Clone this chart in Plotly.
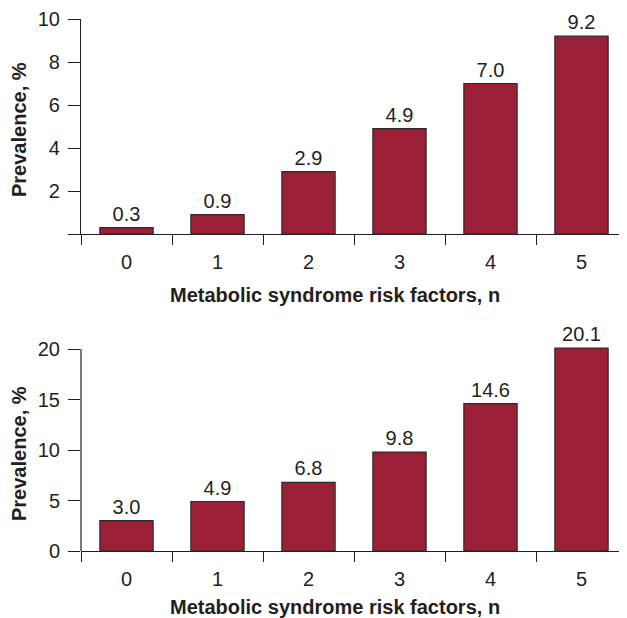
import plotly.graph_objects as go

categories = ["0", "1", "2", "3", "4", "5"]
top_values = [0.3, 0.9, 2.9, 4.9, 7.0, 9.2]
bottom_values = [3.0, 4.9, 6.8, 9.8, 14.6, 20.1]
top_ticks = [0, 2, 4, 6, 8, 10]
top_ticktext = ["", "2", "4", "6", "8", "10"]
bottom_ticks = [0, 5, 10, 15, 20]
x_title = "Metabolic syndrome risk factors, n"
y_title = "Prevalence, %"

OFF = 8  # page body margin of the html page
W, H = 627 - OFF, 618 - OFF
FONT = "Liberation Sans, Arial, sans-serif"
INK = "#231f20"
BAR = "#9b1f37"

fig = go.Figure()
for vals, xa, ya in [(top_values, "x", "y"), (bottom_values, "x2", "y2")]:
    fig.add_trace(go.Bar(
        x=categories, y=vals, xaxis=xa, yaxis=ya,
        text=[f"{v:.1f}" for v in vals], textposition="outside",
        textfont=dict(size=20, color=INK, family=FONT),
        marker=dict(color=BAR, line=dict(color="#2a2a2a", width=1.2)),
        cliponaxis=False, showlegend=False,
    ))

def py(p):
    return 1 - (p - OFF) / H

def px(p):
    return (p - OFF) / W

# bottom panel: 0 at 551px, 20 at 349px; extend range so the tallest bar fits
b0, b20 = 551, 349
bmax = 21.0
b_top = b0 - (b0 - b20) * bmax / 20

xdom = [px(81), 1.0]
common_x = dict(
    type="category", range=[-0.5, 5.5], showline=True, linecolor=INK, linewidth=1.2,
    ticks="outside", tickson="boundaries", ticklen=10, tickcolor=INK, tickwidth=1.2,
    tickfont=dict(size=20, color=INK, family=FONT), showgrid=False, zeroline=False,
    domain=xdom, fixedrange=True, automargin=False, ticklabelstandoff=10,
)
common_y = dict(
    linecolor=INK, linewidth=1.2, ticks="outside", ticklen=12,
    tickcolor=INK, tickwidth=1.2, tickfont=dict(size=20, color=INK, family=FONT),
    showgrid=False, zeroline=False, ticklabelstandoff=4, automargin=False,
)

fig.update_layout(
    width=W, height=H, margin=dict(l=0, r=0, t=0, b=0),
    paper_bgcolor="white", plot_bgcolor="white", bargap=0.415,
    font=dict(family=FONT, color=INK),
    xaxis=dict(common_x, anchor="y"),
    xaxis2=dict(common_x, anchor="y2"),
    yaxis=dict(common_y, anchor="x", range=[0, 10], tickvals=top_ticks, showline=True,
               ticktext=top_ticktext, domain=[py(234), py(19)]),
    yaxis2=dict(common_y, anchor="x2", range=[0, bmax], tickvals=bottom_ticks,
                showline=False, domain=[py(b0), py(b_top)]),
)

# y-axis line of the bottom panel, running only up to the last tick
fig.add_shape(type="line", xref="x2 domain", yref="y2", x0=0, x1=0,
              y0=bottom_ticks[0], y1=bottom_ticks[-1],
              line=dict(color=INK, width=1.2), layer="above")

annots = [
    dict(text=f"<b>{x_title}</b>", x=px(335), y=py(295)),
    dict(text=f"<b>{x_title}</b>", x=px(335), y=py(607)),
    dict(text=f"<b>{y_title}</b>", x=px(19), y=py(130), textangle=-90),
    dict(text=f"<b>{y_title}</b>", x=px(19), y=py(454), textangle=-90),
]
for a in annots:
    fig.add_annotation(xref="paper", yref="paper", showarrow=False,
                       xanchor="center", yanchor="middle",
                       font=dict(size=20, color=INK, family=FONT), **a)

fig.write_html("out.html")
